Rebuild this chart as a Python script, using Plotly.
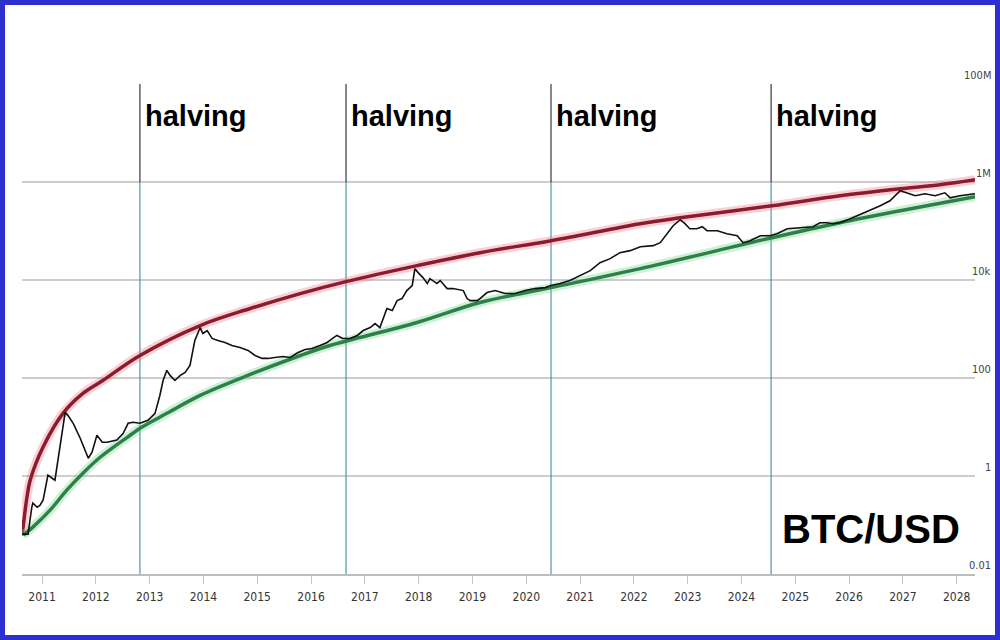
import math
import plotly.graph_objects as go

# ---------------- data ----------------
years_btc = [2010.63, 2010.74, 2010.81, 2010.83, 2010.91, 2010.96, 2011.02, 2011.09, 2011.11, 2011.24,
             2011.30, 2011.37, 2011.43, 2011.48, 2011.58, 2011.71, 2011.80, 2011.86, 2011.93, 2012.02,
             2012.12, 2012.21, 2012.39, 2012.51, 2012.60, 2012.69, 2012.82, 2012.97, 2013.10, 2013.19,
             2013.25, 2013.32, 2013.38, 2013.47, 2013.57, 2013.66, 2013.75, 2013.84, 2013.94, 2013.99,
             2014.07, 2014.16, 2014.27, 2014.40, 2014.53, 2014.68, 2014.83, 2014.96, 2015.09, 2015.20,
             2015.33, 2015.48, 2015.61, 2015.76, 2015.89, 2016.02, 2016.17, 2016.30, 2016.35, 2016.48,
             2016.59, 2016.72, 2016.86, 2016.97, 2017.10, 2017.19, 2017.28, 2017.41, 2017.51, 2017.60,
             2017.69, 2017.78, 2017.88, 2017.93, 2017.99, 2018.08, 2018.16, 2018.21, 2018.34, 2018.40,
             2018.53, 2018.64, 2018.83, 2018.90, 2018.96, 2019.09, 2019.14, 2019.27, 2019.42, 2019.61,
             2019.79, 2019.98, 2020.16, 2020.35, 2020.46, 2020.63, 2020.81, 2021.00, 2021.19, 2021.37,
             2021.56, 2021.74, 2021.93, 2022.12, 2022.36, 2022.49, 2022.62, 2022.73, 2022.86, 2022.95,
             2023.04, 2023.17, 2023.27, 2023.36, 2023.55, 2023.73, 2023.92, 2024.03, 2024.16, 2024.35,
             2024.53, 2024.66, 2024.85, 2025.09, 2025.33, 2025.46, 2025.59, 2025.70, 2025.83, 2026.02,
             2026.20, 2026.39, 2026.58, 2026.76, 2026.95, 2027.23, 2027.41, 2027.60, 2027.78, 2027.88,
             2028.06, 2028.34]
price_btc = [0.065, 0.065, 0.23, 0.28, 0.23, 0.25, 0.32, 0.82, 1.04, 0.82,
             2.4, 8.6, 19.9, 17.3, 11.9, 5.9, 3.35, 2.3, 3.05, 6.8,
             4.9, 4.9, 5.4, 7.4, 11.9, 12.5, 11.9, 13.7, 19.0, 44,
             89, 143, 113, 89, 113, 130, 181, 583, 1070, 809,
             931, 641, 583, 531, 461, 420, 365, 288, 251, 251,
             263, 275, 263, 332, 382, 401, 461, 531, 583, 738,
             641, 641, 738, 931, 1070, 1294, 1070, 2618, 2382, 3802,
             4178, 6081, 7691, 17060, 14160, 11200, 8453, 10690, 8453, 9727,
             6683, 6683, 6081, 4178, 3802, 3802, 4178, 5534, 6081, 5284,
             5284, 6081, 6683, 6998, 7691, 8453, 9727, 12300, 15520, 22590,
             27290, 36140, 39720, 47860, 50230, 57810, 88100, 128200, 169800, 140900,
             111400, 111400, 122500, 101400, 101400, 88100, 80170, 57810, 63390, 80170,
             80170, 88100, 111400, 116700, 122500, 147600, 147600, 140900, 147600, 178200,
             214800, 258800, 327300, 414000, 662200, 523600, 575400, 523600, 602600, 476400,
             523600, 575400]

years_upper = [2010.63, 2010.68, 2010.72, 2010.78, 2011.02, 2011.39, 2011.76, 2012.13, 2012.82, 2013.94,
               2014.87, 2015.80, 2016.65, 2017.97, 2019.14, 2020.46, 2022.12, 2022.86, 2024.57, 2025.83,
               2026.95, 2027.69, 2028.34]
price_upper = [0.062, 0.175, 0.37, 0.82, 3.9, 19.0, 48.5, 89, 288, 1178,
               2618, 5284, 9268, 19634, 36141, 63387, 140929, 186638, 327340, 523600,
               727780, 877000, 1109000]

years_lower = [2010.65, 2010.83, 2011.15, 2011.46, 2011.76, 2012.08, 2012.69, 2012.82, 2013.32, 2013.94,
               2014.87, 2015.80, 2016.35, 2017.97, 2019.14, 2020.46, 2022.12, 2024.57, 2025.83, 2026.95,
               2028.34]
price_lower = [0.062, 0.0906, 0.201, 0.514, 1.14, 2.415, 7.45, 9.42, 19.0, 44.3,
               118, 288, 461, 1355, 3467, 6998, 17060, 73110, 147570, 258820,
               500000]

halving_years = [2012.82, 2016.65, 2020.46, 2024.55]
halving_text = "halving"
halving_split_price = 1e6          # line is black above this level, teal below

x_tick_years = list(range(2011, 2029))
x_tick_labels = [str(y) for y in x_tick_years]
y_tick_values = [0.01, 1, 100, 1e4, 1e6, 1e8]
y_tick_labels = ["0.01", "1", "100", "10k", "1M", "100M"]
y_min, y_max = 0.01, 1e8
x_min, x_max = 2010.628, 2028.34
title_text = "BTC/USD"

# ---------------- figure ----------------
W, H = 1000, 640
ML, MR, MT, MB = 22, 25, 84, 66

fig = go.Figure()

# halving lines
for h in halving_years:
    fig.add_trace(go.Scatter(x=[h, h], y=[y_min, halving_split_price], mode="lines",
                             line=dict(color="#2a8593", width=1), hoverinfo="skip", showlegend=False))
    fig.add_trace(go.Scatter(x=[h, h], y=[halving_split_price, y_max], mode="lines",
                             line=dict(color="#111111", width=1), hoverinfo="skip", showlegend=False))

# upper (red) band with glow
fig.add_trace(go.Scatter(x=years_upper, y=price_upper, mode="lines", line_shape="spline",
                         line=dict(color="rgba(235,120,135,0.35)", width=9), hoverinfo="skip", showlegend=False))
fig.add_trace(go.Scatter(x=years_upper, y=price_upper, mode="lines", line_shape="spline",
                         line=dict(color="#8c1b2e", width=3.5), showlegend=False))
# lower (green) band with glow
fig.add_trace(go.Scatter(x=years_lower, y=price_lower, mode="lines", line_shape="spline",
                         line=dict(color="rgba(110,215,135,0.35)", width=9), hoverinfo="skip", showlegend=False))
fig.add_trace(go.Scatter(x=years_lower, y=price_lower, mode="lines", line_shape="spline",
                         line=dict(color="#2e7f4a", width=3.5), showlegend=False))
# price
fig.add_trace(go.Scatter(x=years_btc, y=price_btc, mode="lines",
                         line=dict(color="#111111", width=1.6), showlegend=False))

small_font = "Liberation Sans Narrow, DejaVu Sans Condensed, Liberation Sans, Arial, sans-serif"

annotations = []
for v, lab in zip(y_tick_values, y_tick_labels):
    annotations.append(dict(x=1, xref="paper", y=math.log10(v), yref="y", text=lab,
                            xanchor="right", yanchor="middle", xshift=18, yshift=9, showarrow=False,
                            font=dict(family=small_font, size=11, color="#444444")))
for h in halving_years:
    annotations.append(dict(x=h, xref="x", y=0.935, yref="paper", text=halving_text,
                            xanchor="left", yanchor="middle", xshift=3, showarrow=False,
                            font=dict(family="Liberation Sans, Arial, sans-serif", size=29, color="#000000",
                                      weight="bold")))
annotations.append(dict(x=0.891, xref="paper", y=0.092, yref="paper", text=title_text,
                        xanchor="center", yanchor="middle", showarrow=False,
                        font=dict(family="Liberation Sans, Arial, sans-serif", size=40, color="#000000",
                                  weight="bold")))

pw = W - ML - MR
ph = H - MT - MB
border = [dict(type="rect", xref="paper", yref="paper",
               x0=(0 - ML) / pw, x1=(W - ML) / pw,
               y0=-MB / ph, y1=(H - MB) / ph,
               line=dict(color="#2d2fd1", width=10), fillcolor="rgba(0,0,0,0)", layer="above")]

fig.update_layout(
    width=W, height=H,
    margin=dict(l=ML, r=MR, t=MT, b=MB, pad=0),
    paper_bgcolor="white", plot_bgcolor="white",
    showlegend=False,
    annotations=annotations,
    shapes=border,
    xaxis=dict(range=[x_min, x_max], tickmode="array", tickvals=x_tick_years, ticktext=x_tick_labels,
               showgrid=False, zeroline=False, showline=True, linecolor="#bdbdbd", linewidth=2,
               ticks="outside", ticklen=8, tickwidth=1, tickcolor="#c4c4c4",
               tickfont=dict(family=small_font, size=12, color="#333333"), ticklabelstandoff=3),
    yaxis=dict(type="log", range=[math.log10(y_min), math.log10(y_max)], tickmode="array",
               tickvals=y_tick_values, showticklabels=False, showgrid=True, gridcolor="#cdcdcd",
               gridwidth=2, zeroline=False, showline=False),
)

fig.write_html("out.html", config={"displayModeBar": False},
               post_script="document.body.style.margin='0';document.body.style.overflow='hidden';")
